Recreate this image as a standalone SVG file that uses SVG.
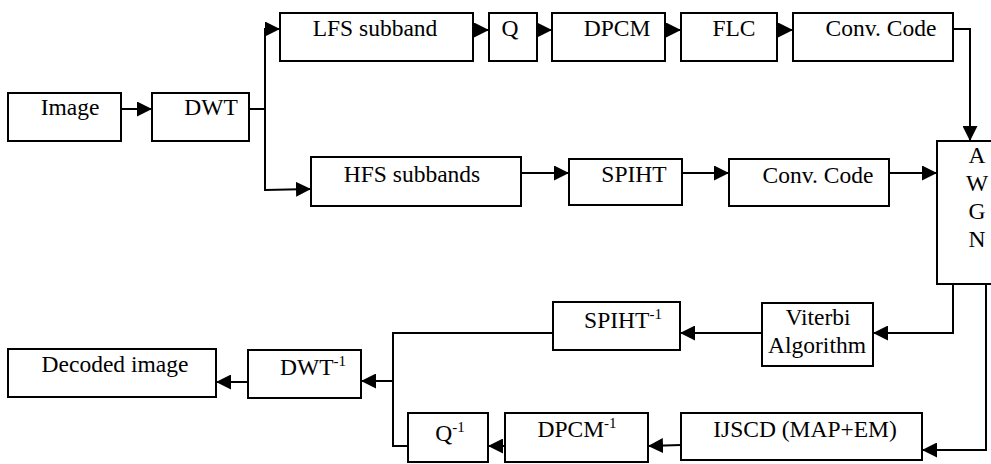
<svg xmlns="http://www.w3.org/2000/svg" width="991" height="464" viewBox="0 0 991 464">
<style>
rect{fill:#fff;stroke:#000;stroke-width:2}
text{font-family:"Liberation Serif","Times New Roman",serif;font-size:23.5px;fill:#000;text-anchor:middle}
.sup{font-size:15px}
.c{fill:none;stroke:#000;stroke-width:2}
</style>
<defs>
<marker id="ah" markerUnits="userSpaceOnUse" markerWidth="15" markerHeight="15" refX="15" refY="7.5" orient="auto"><path d="M0,0L15,7.5L0,15z" fill="#000"/></marker>
</defs>
<rect x="0" y="0" width="991" height="464" style="fill:#fff;stroke:none"/>
<g id="connectors">
<path class="c" d="M121,109H152" marker-end="url(#ah)"/>
<path class="c" d="M249,109H265"/>
<path class="c" d="M265,191V29H280" marker-end="url(#ah)"/>
<path class="c" d="M265,190L311,189" marker-end="url(#ah)"/>
<path class="c" d="M473,30H489" marker-end="url(#ah)"/>
<path class="c" d="M537,30H552" marker-end="url(#ah)"/>
<path class="c" d="M665,30H681" marker-end="url(#ah)"/>
<path class="c" d="M777,30H793" marker-end="url(#ah)"/>
<path class="c" d="M953,29H970V141" marker-end="url(#ah)"/>
<path class="c" d="M521,173H569" marker-end="url(#ah)"/>
<path class="c" d="M682,173H729" marker-end="url(#ah)"/>
<path class="c" d="M889,173H937" marker-end="url(#ah)"/>
<path class="c" d="M953,284V333H873" marker-end="url(#ah)"/>
<path class="c" d="M986,284V450H922" marker-end="url(#ah)"/>
<path class="c" d="M762,333H680" marker-end="url(#ah)"/>
<path class="c" d="M681,445L648,446" marker-end="url(#ah)"/>
<path class="c" d="M505,446H488" marker-end="url(#ah)"/>
<path class="c" d="M553,333H393V446H408"/>
<path class="c" d="M393,381H361" marker-end="url(#ah)"/>
<path class="c" d="M248,382H216" marker-end="url(#ah)"/>
</g>
<g id="image"><rect x="8" y="93" width="113" height="48"/><text x="70" y="115">Image</text></g>
<g id="dwt"><rect x="152" y="93" width="97" height="48"/><text x="211" y="115">DWT</text></g>
<g id="lfs"><rect x="280" y="13" width="193" height="48"/><text x="375" y="36">LFS subband</text></g>
<g id="q"><rect x="489" y="13" width="48" height="48"/><text x="510" y="36">Q</text></g>
<g id="dpcm"><rect x="552" y="13" width="113" height="48"/><text x="617" y="36">DPCM</text></g>
<g id="flc"><rect x="681" y="13" width="96" height="48"/><text x="734" y="36">FLC</text></g>
<g id="conv1"><rect x="793" y="13" width="160" height="48"/><text x="881" y="36">Conv. Code</text></g>
<g id="hfs"><rect x="311" y="157" width="210" height="49"/><text x="412" y="182">HFS subbands</text></g>
<g id="spiht"><rect x="569" y="159" width="113" height="46"/><text x="634" y="182">SPIHT</text></g>
<g id="conv2"><rect x="729" y="159" width="160" height="47"/><text x="818" y="183">Conv. Code</text></g>
<g id="awgn"><rect x="937" y="141" width="60" height="143"/>
<text x="977" y="163">A</text><text x="977" y="191">W</text><text x="977" y="219">G</text><text x="977" y="247">N</text></g>
<g id="viterbi"><rect x="762" y="303" width="111" height="63"/><text x="818" y="325">Viterbi</text><text x="817" y="353">Algorithm</text></g>
<g id="spiht-inv"><rect x="553" y="302" width="127" height="48"/><text x="623" y="328">SPIHT<tspan class="sup" dy="-9">-1</tspan></text></g>
<g id="ijscd"><rect x="681" y="413" width="241" height="47"/><text x="805" y="437">IJSCD (MAP+EM)</text></g>
<g id="dpcm-inv"><rect x="505" y="413" width="143" height="49"/><text x="577" y="437">DPCM<tspan class="sup" dy="-9">-1</tspan></text></g>
<g id="q-inv"><rect x="408" y="413" width="80" height="49"/><text x="450" y="441">Q<tspan class="sup" dy="-9">-1</tspan></text></g>
<g id="dwt-inv"><rect x="248" y="350" width="113" height="48"/><text x="313" y="375">DWT<tspan class="sup" dy="-9">-1</tspan></text></g>
<g id="decoded"><rect x="8" y="349" width="208" height="48"/><text x="115" y="372">Decoded image</text></g>
</svg>
